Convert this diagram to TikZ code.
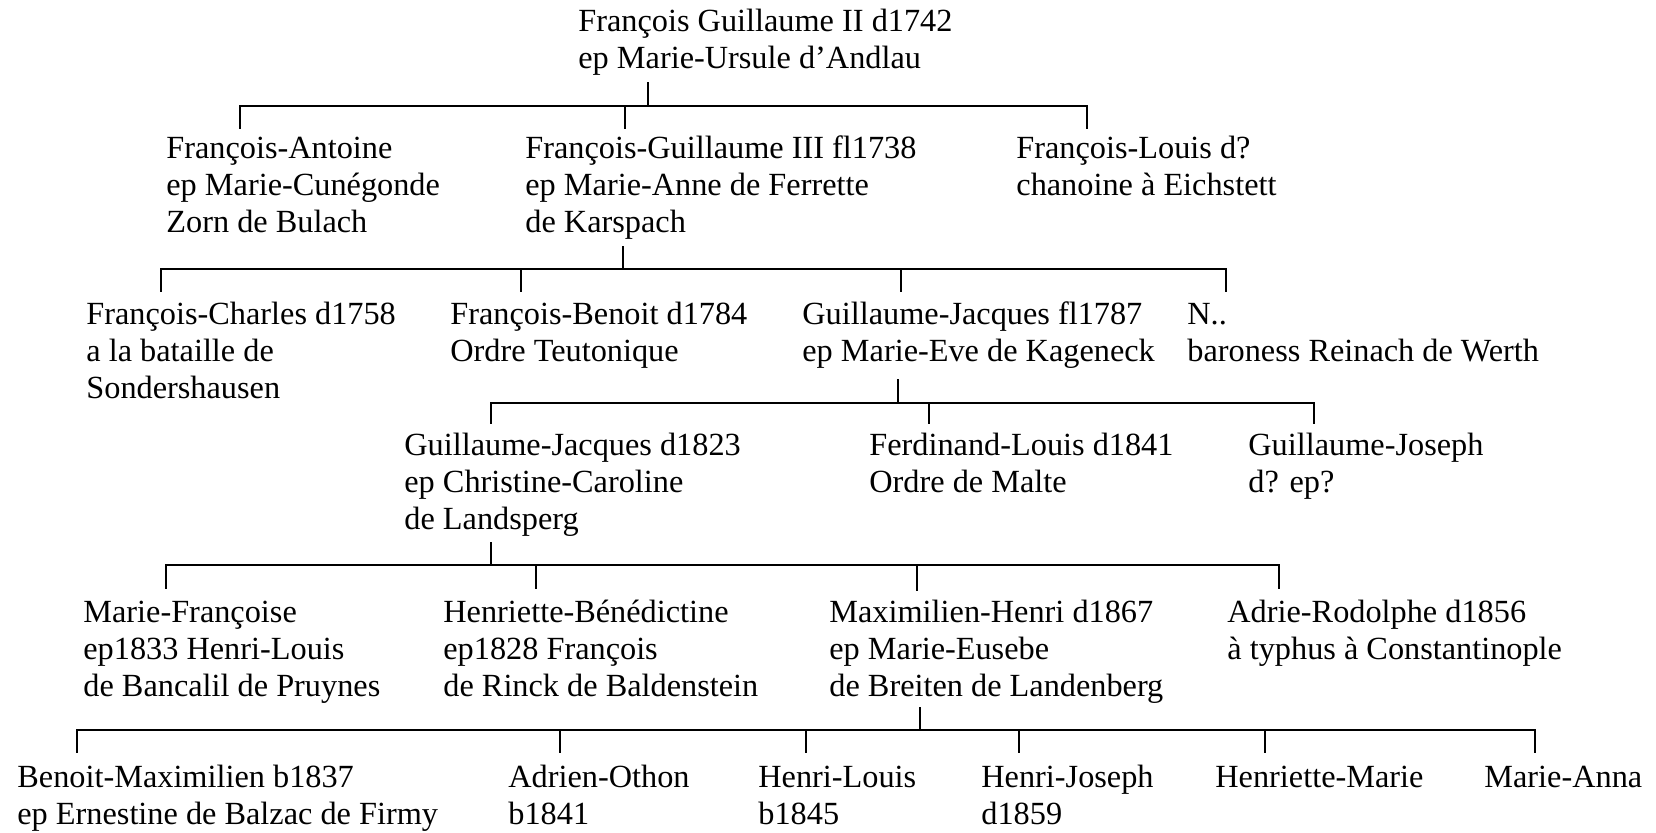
\documentclass[tikz,border=0pt]{standalone}
\usepackage{fontspec}
\setmainfont{Liberation Serif}
\begin{document}
\begin{tikzpicture}[x=0.5pt,y=-0.5pt,
  person/.style={anchor=base west,align=left,inner sep=0pt,font=\fontsize{16.15}{18.5}\selectfont},
  link/.style={line width=1.2pt,line cap=rect}]
\useasboundingbox (0,0) rectangle (1656,832);
% (node positions give the baseline of the last line)
% generation 1
\node[person] (root) at (578,68) {François Guillaume II d1742\\ep Marie-Ursule d’Andlau};
% generation 2
\node[person] (fa) at (166,232) {François-Antoine\\ep Marie-Cunégonde\\Zorn de Bulach};
\node[person] (fg) at (525,232) {François-Guillaume III fl1738\\ep Marie-Anne de Ferrette\\de Karspach};
\node[person] (fl) at (1016,195) {François-Louis d?\\chanoine à Eichstett};
% generation 3
\node[person] (fc) at (86,398) {François-Charles d1758\\a la bataille de\\Sondershausen};
\node[person] (fb) at (450,361) {François-Benoit d1784\\Ordre Teutonique};
\node[person] (gj) at (802,361) {Guillaume-Jacques fl1787\\ep Marie-Eve de Kageneck};
\node[person] (nn) at (1187,361) {N..\\baroness Reinach de Werth};
% generation 4
\node[person] (gjd) at (404,529) {Guillaume-Jacques d1823\\ep Christine-Caroline\\de Landsperg};
\node[person] (fdl) at (869,492) {Ferdinand-Louis d1841\\Ordre de Malte};
\node[person] (gjo) at (1248,492) {Guillaume-Joseph\\d? ep?};
% generation 5
\node[person] (mf) at (83,696) {Marie-Françoise\\ep1833 Henri-Louis\\de Bancalil de Pruynes};
\node[person] (hb) at (443,696) {Henriette-Bénédictine\\ep1828 François\\de Rinck de Baldenstein};
\node[person] (mh) at (829,696) {Maximilien-Henri d1867\\ep Marie-Eusebe\\de Breiten de Landenberg};
\node[person] (ar) at (1227,659) {Adrie-Rodolphe d1856\\à typhus à Constantinople};
% generation 6
\node[person] (bm) at (17,824) {Benoit-Maximilien b1837\\ep Ernestine de Balzac de Firmy};
\node[person] (ao) at (508,824) {Adrien-Othon\\b1841};
\node[person] (hl) at (758,824) {Henri-Louis\\b1845};
\node[person] (hj) at (981,824) {Henri-Joseph\\d1859};
\node[person] (hm) at (1215,787) {Henriette-Marie};
\node[person] (ma) at (1484,787) {Marie-Anna};

% family 1
\coordinate (p1) at (648,83); \coordinate (j1) at (648,106);
\coordinate (l1) at (240,106); \coordinate (r1) at (1087,106);
\coordinate (c1a) at (240,128); \coordinate (c1b) at (625,128); \coordinate (c1c) at (1087,128);
\draw[link] (p1) -- (j1);
\draw[link] (c1a) -- (l1) -- (r1) -- (c1c);
\draw[link] (c1b |- j1) -- (c1b);
% family 2
\coordinate (p2) at (623,247); \coordinate (j2) at (623,269);
\coordinate (l2) at (161,269); \coordinate (r2) at (1226,269);
\coordinate (c2a) at (161,291); \coordinate (c2b) at (521,291); \coordinate (c2c) at (901,291); \coordinate (c2d) at (1226,291);
\draw[link] (p2) -- (j2);
\draw[link] (c2a) -- (l2) -- (r2) -- (c2d);
\draw[link] (c2b |- j2) -- (c2b);
\draw[link] (c2c |- j2) -- (c2c);
% family 3
\coordinate (p3) at (898,380); \coordinate (j3) at (898,403);
\coordinate (l3) at (491,403); \coordinate (r3) at (1314,403);
\coordinate (c3a) at (491,423); \coordinate (c3b) at (929,423); \coordinate (c3c) at (1314,423);
\draw[link] (p3) -- (j3);
\draw[link] (c3a) -- (l3) -- (r3) -- (c3c);
\draw[link] (c3b |- j3) -- (c3b);
% family 4
\coordinate (p4) at (491,543); \coordinate (j4) at (491,565);
\coordinate (l4) at (166,565); \coordinate (r4) at (1279,565);
\coordinate (c4a) at (166,588); \coordinate (c4b) at (536,588); \coordinate (c4c) at (917,590); \coordinate (c4d) at (1279,588);
\draw[link] (p4) -- (j4);
\draw[link] (c4a) -- (l4) -- (r4) -- (c4d);
\draw[link] (c4b |- j4) -- (c4b);
\draw[link] (c4c |- j4) -- (c4c);
% family 5
\coordinate (p5) at (920,708); \coordinate (j5) at (920,730);
\coordinate (l5) at (77,730); \coordinate (r5) at (1535,730);
\coordinate (c5a) at (77,752); \coordinate (c5b) at (560,752); \coordinate (c5c) at (806,752);
\coordinate (c5d) at (1019,752); \coordinate (c5e) at (1265,752); \coordinate (c5f) at (1535,752);
\draw[link] (p5) -- (j5);
\draw[link] (c5a) -- (l5) -- (r5) -- (c5f);
\draw[link] (c5b |- j5) -- (c5b);
\draw[link] (c5c |- j5) -- (c5c);
\draw[link] (c5d |- j5) -- (c5d);
\draw[link] (c5e |- j5) -- (c5e);
\end{tikzpicture}
\end{document}
